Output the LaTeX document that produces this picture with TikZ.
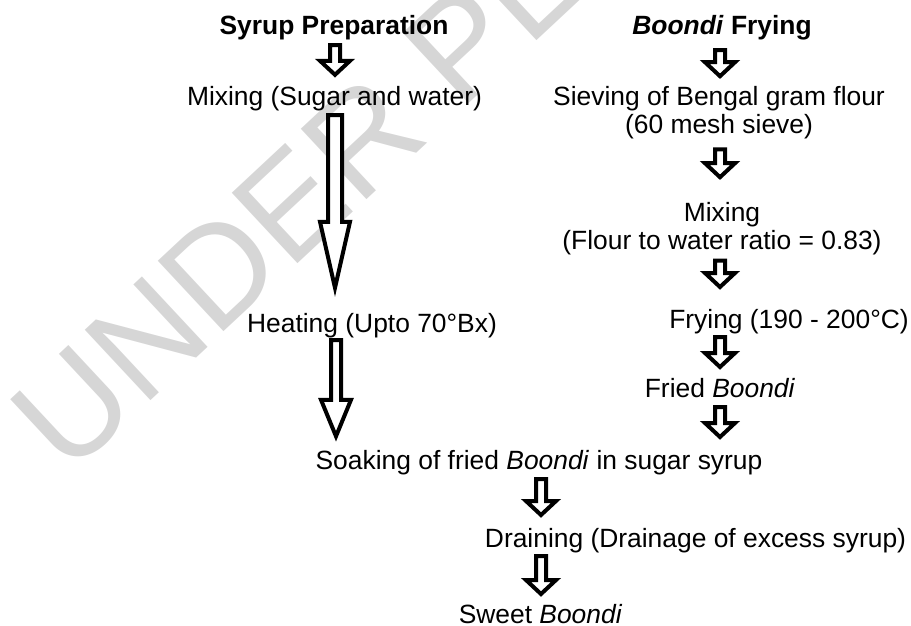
\documentclass[tikz,border=0pt]{standalone}
\usepackage{fontspec}
\setmainfont{Liberation Sans}
\usetikzlibrary{calc}
\begin{document}
\begin{tikzpicture}[x=1pt,y=-1pt,
  txt/.style={inner sep=0pt, anchor=base, font=\fontsize{26.4}{28}\selectfont, text height=19pt, text depth=5.5pt},
  txttwo/.style={inner sep=0pt, anchor=north, align=center, font=\fontsize{26.4}{28}\selectfont},
  blk/.style n args={3}{draw=black, fill=white, line width=4pt, line join=miter,
     to path={let \p1=(\tikztostart), \p2=(\tikztotarget) in
       (\x1-#1,\y1) -- (\x1-#1,\y2+#3) -- (\x1-#2,\y2+#3) -- (\x1,\y2) -- (\x1+#2,\y2+#3) -- (\x1+#1,\y2+#3) -- (\x1+#1,\y1) -- cycle}},
  sblk/.style={blk={5pt}{15pt}{14pt}},
  wmark/.style={inner sep=0pt, anchor=base west, rotate=43, text=black!16, font=\fontsize{140}{140}\selectfont}
]
\useasboundingbox (0,0) rectangle (911,626);
% watermark
\node[wmark] (wm) at (68,478) {UNDER PEER REVIEW};
% columns
\coordinate (cL) at (335,0);
\coordinate (cLb) at (336,0);
\coordinate (cR) at (720,0);
\coordinate (cM) at (541,0);
% texts
\node[txt] (t1) at (334,35) {\textbf{Syrup Preparation}};
\node[txt] (t2) at (722,35) {\textbf{\textit{Boondi} Frying}};
\node[txt] (m1) at (334.5,106) {Mixing (Sugar and water)};
\node[txt] (h1) at (372,332) {Heating (Upto 70°Bx)};
\node[txt] (s1) at (539,469) {Soaking of fried \textit{Boondi} in sugar syrup};
\node[txt] (d1) at (695.5,547) {Draining (Drainage of excess syrup)};
\node[txt] (w1) at (540.5,623) {Sweet \textit{Boondi}};
\node[txttwo] (r1) at (719,85.8) {Sieving of Bengal gram flour\\(60 mesh sieve)};
\node[txttwo] (r2) at (722,202.1) {Mixing\\(Flour to water ratio = 0.83)};
\node[txt] (r3) at (789,328) {Frying (190 - 200°C)};
\node[txt] (r4) at (720,397) {Fried \textit{Boondi}};
% arrows
\draw[sblk] ([yshift=-4.5pt]t1.south -| cL) to ([yshift=12pt]m1.north -| cL);
\draw[blk={7pt}{15pt}{66pt}] ([yshift=-3.5pt]m1.south -| cL) to ([yshift=25pt]h1.north -| cL);
\draw[blk={5pt}{15pt}{36.5pt}] ([yshift=-2.5pt]h1.south -| cLb) to ([yshift=13.5pt]s1.north -| cLb);
\draw[sblk] ([yshift=-9.5pt]t2.south -| cR) to ([yshift=9.6pt]r1.north -| cR);
\draw[sblk] ([yshift=-10.5pt]r1.south -| cR) to ([yshift=24.9pt]r2.north -| cR);
\draw[sblk] ([yshift=-5.5pt]r2.south -| cR) to ([yshift=21.8pt]r3.north -| cR);
\draw[sblk] ([yshift=-3.5pt]r3.south -| cR) to ([yshift=10.8pt]r4.north -| cR);
\draw[sblk] ([yshift=-4.5pt]r4.south -| cR) to ([yshift=12.8pt]s1.north -| cR);
\draw[sblk] ([yshift=-4.5pt]s1.south -| cM) to ([yshift=12.8pt]d1.north -| cM);
\draw[sblk] ([yshift=-3.5pt]d1.south -| cM) to ([yshift=9.8pt]w1.north -| cM);
\end{tikzpicture}
\end{document}
